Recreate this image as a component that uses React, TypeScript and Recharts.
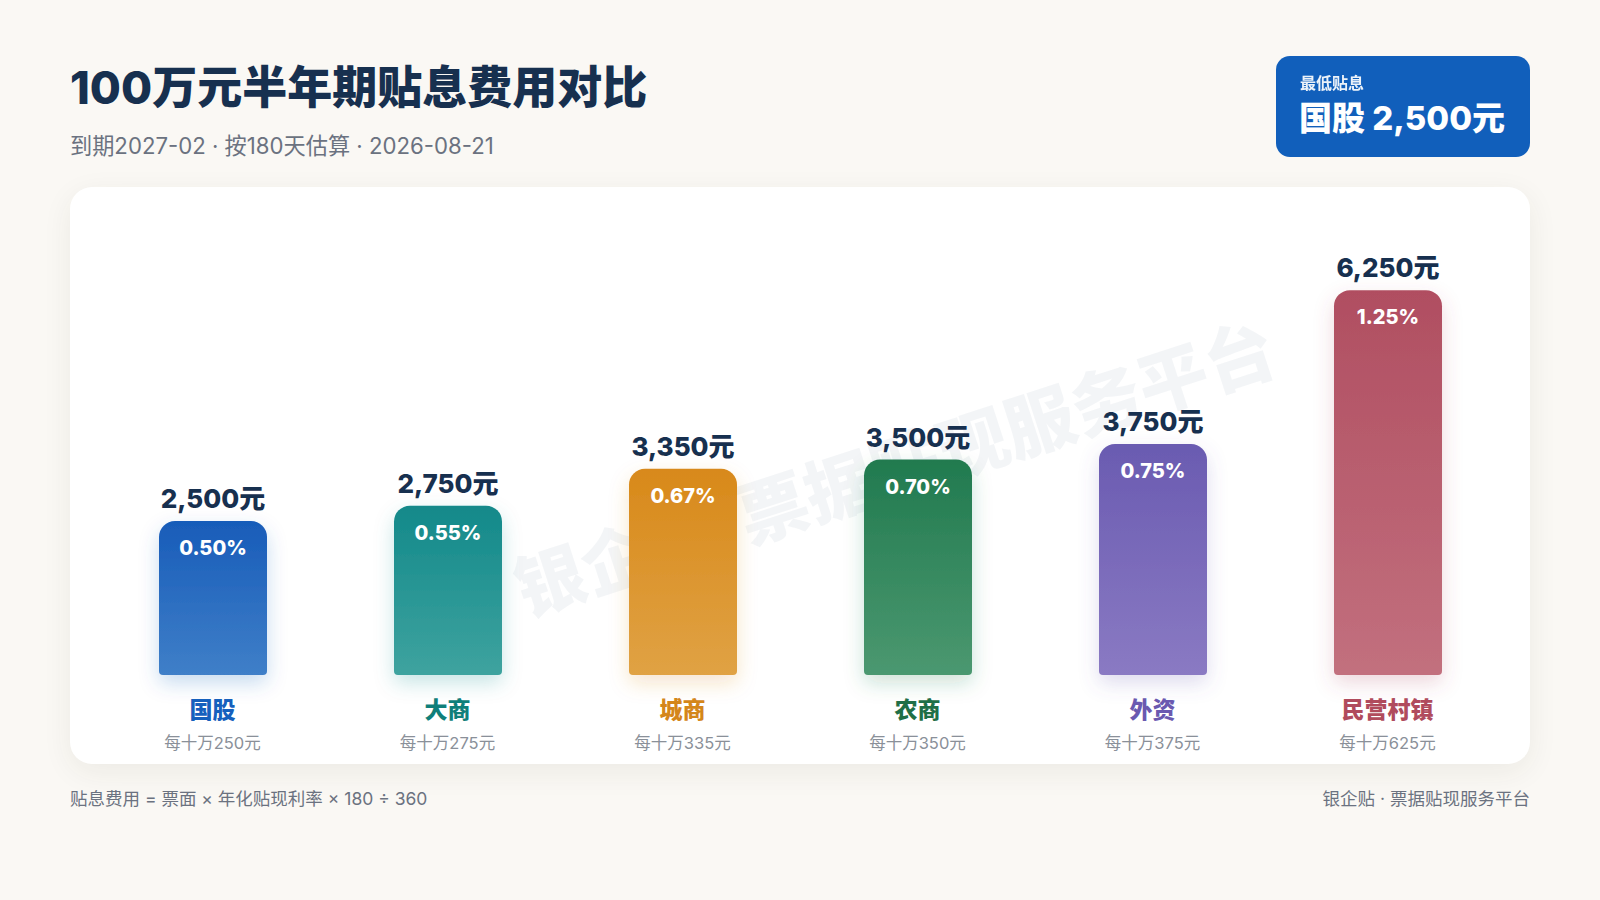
import React from 'react';
import { BarChart, Bar, XAxis, YAxis, Cell, LabelList } from 'recharts';

const categories = ['国股', '大商', '城商', '农商', '外资', '民营村镇'];
const fees = [2500, 2750, 3350, 3500, 3750, 6250];
const rates = ['0.50%', '0.55%', '0.67%', '0.70%', '0.75%', '1.25%'];
const per100k = [250, 275, 335, 350, 375, 625];

const topColors = ['#185cb9', '#13898a', '#d8891a', '#217a4f', '#6a5bb1', '#b04e61'];
const bottomColors = ['#3f7fc8', '#3ea39f', '#e0a244', '#4b9870', '#8a7ac3', '#c2707e'];
const labelColors = ['#1560bd', '#0f7f7a', '#d4861a', '#1f6f47', '#6a59b0', '#b04b5d'];

const data = categories.map((name, i) => ({ name, fee: fees[i], rate: rates[i] }));

const FONT = "Inter, 'Noto Sans CJK SC', sans-serif";
const NAVY = '#17304f';

const CategoryTick = ({ x, y, payload, index }: any) => (
  <g>
    <text x={x} y={y + 35} textAnchor="middle" dominantBaseline="central"
      fontSize={23} fontWeight={800} fill={labelColors[index]} fontFamily={FONT}>
      {payload.value}
    </text>
    <text x={x} y={y + 68} textAnchor="middle" dominantBaseline="central"
      fontSize={16.5} fill="#8a9099" fontFamily={FONT}>
      每十万{per100k[index]}元
    </text>
  </g>
);

const ValueLabel = ({ x, y, width, value }: any) => (
  <text x={x + width / 2} y={y - 13} textAnchor="middle" fontSize={26} fontWeight={800}
    fill={NAVY} fontFamily={FONT}>
    {value.toLocaleString('en-US')}元
  </text>
);

const RateLabel = ({ x, y, width, value }: any) => (
  <text x={x + width / 2} y={y + 34} textAnchor="middle" fontSize={20} fontWeight={800}
    fill="#ffffff" fontFamily={FONT}>
    {value}
  </text>
);

export default function App() {
  return (
    <div style={{ position: 'fixed', left: 0, top: 0, width: 1600, height: 900, overflow: 'hidden',
      background: '#faf8f4', fontFamily: FONT }}>
      {/* header */}
      <div style={{ position: 'absolute', left: 70, top: 65, fontSize: 45, lineHeight: 1,
        fontWeight: 800, color: NAVY, whiteSpace: 'nowrap' }}>
        100万元半年期贴息费用对比
      </div>
      <div style={{ position: 'absolute', left: 70, top: 135, fontSize: 22.2, lineHeight: 1,
        color: '#6b7280', whiteSpace: 'nowrap' }}>
        到期2027-02 · 按180天估算 · 2026-08-21
      </div>

      {/* badge */}
      <div style={{ position: 'absolute', left: 1276, top: 56, width: 254, height: 101,
        background: '#115fbb', borderRadius: 14, color: '#fff' }}>
        <div style={{ position: 'absolute', left: 24, top: 19, fontSize: 16, lineHeight: 1,
          fontWeight: 600, opacity: 0.92, whiteSpace: 'nowrap' }}>最低贴息</div>
        <div style={{ position: 'absolute', left: 23, top: 46, fontSize: 33, lineHeight: 1,
          fontWeight: 800, whiteSpace: 'nowrap' }}>国股 2,500元</div>
      </div>

      {/* card */}
      <div style={{ position: 'absolute', left: 70, top: 187, width: 1460, height: 577,
        background: '#ffffff', borderRadius: 22, boxShadow: '0 8px 30px rgba(60,50,30,0.07)' }} />

      {/* watermark */}
      <div style={{ position: 'absolute', left: 895, top: 470, transform: 'translate(-50%, -50%) rotate(-18deg)',
        fontSize: 70, fontWeight: 800, color: 'rgba(148,160,180,0.11)', whiteSpace: 'nowrap', lineHeight: 1 }}>
        银企贴·票据贴现服务平台
      </div>

      <div style={{ position: 'absolute', left: 70, top: 187 }}>
        <BarChart width={1460} height={577} data={data}
          margin={{ top: 57, right: 25, bottom: 0, left: 25 }}>
          <defs>
            {categories.map((c, i) => (
              <linearGradient key={c} id={`grad${i}`} x1="0" y1="0" x2="0" y2="1">
                <stop offset="0%" stopColor={topColors[i]} />
                <stop offset="100%" stopColor={bottomColors[i]} />
              </linearGradient>
            ))}
            {categories.map((c, i) => (
              <filter key={c} id={`glow${i}`} x="-60%" y="-30%" width="220%" height="160%">
                <feDropShadow dx="0" dy="8" stdDeviation="10" floodColor={topColors[i]} floodOpacity="0.22" />
              </filter>
            ))}
          </defs>
          <XAxis dataKey="name" axisLine={false} tickLine={false} tickSize={0} tickMargin={0}
            height={89} interval={0} tick={<CategoryTick />} />
          <YAxis hide domain={[0, 7000]} />
          <Bar dataKey="fee" barSize={108} radius={[16, 16, 4, 4]} isAnimationActive={false}>
            {data.map((d, i) => (
              <Cell key={d.name} fill={`url(#grad${i})`} filter={`url(#glow${i})`} />
            ))}
            <LabelList dataKey="fee" content={<ValueLabel />} />
            <LabelList dataKey="rate" content={<RateLabel />} />
          </Bar>
        </BarChart>
      </div>

      {/* footer */}
      <div style={{ position: 'absolute', left: 70, top: 790, fontSize: 17.5, lineHeight: 1,
        color: '#6b7280', whiteSpace: 'nowrap' }}>
        贴息费用 = 票面 × 年化贴现利率 × 180 ÷ 360
      </div>
      <div style={{ position: 'absolute', right: 70, top: 790, fontSize: 17.5, lineHeight: 1,
        color: '#6b7280', whiteSpace: 'nowrap' }}>
        银企贴 · 票据贴现服务平台
      </div>
    </div>
  );
}
